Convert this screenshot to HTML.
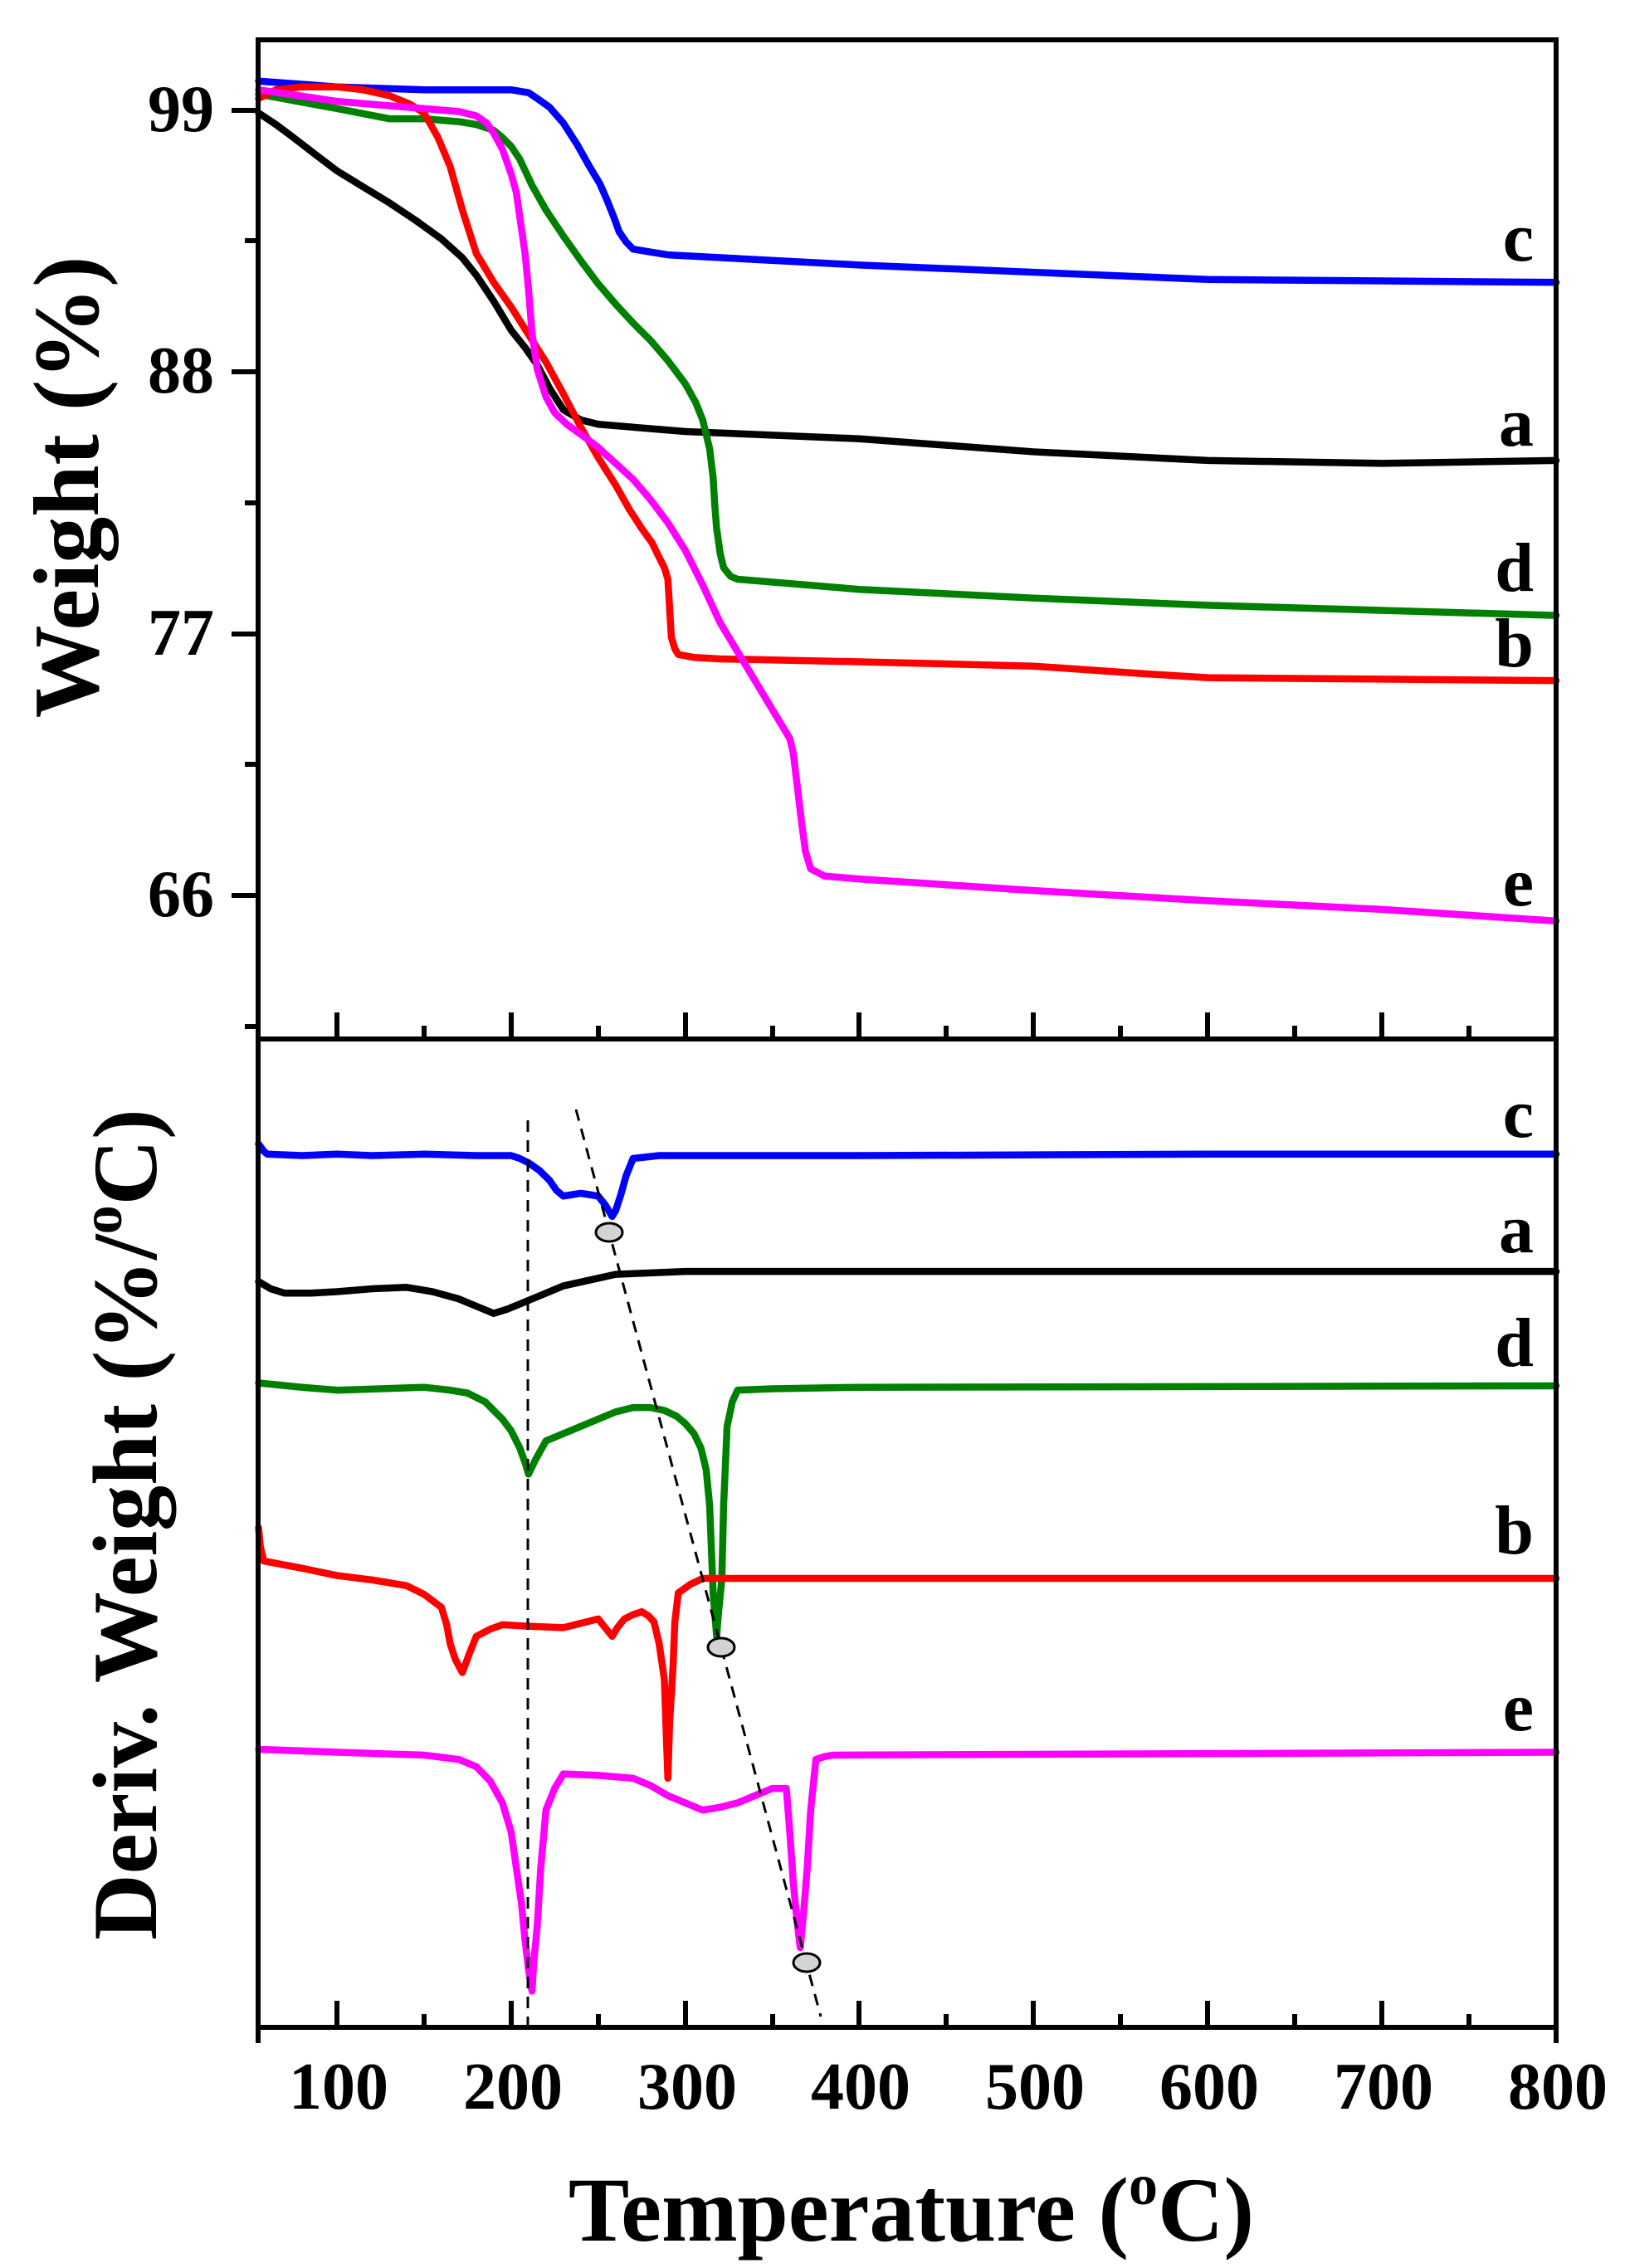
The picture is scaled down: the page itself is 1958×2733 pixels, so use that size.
<!DOCTYPE html>
<html><head><meta charset="utf-8"><style>
html,body{margin:0;padding:0;background:#fff;}
svg{display:block;}
text{font-family:"Liberation Serif",serif;font-weight:bold;fill:#000;}
</style></head><body>
<svg width="1958" height="2733" viewBox="0 0 1958 2733" xmlns="http://www.w3.org/2000/svg">
<g fill="none" stroke-linejoin="round" stroke-linecap="round" transform="matrix(2.0986,0,0,1.745,196.14,0)">
<g stroke-width="8.5">
<polyline vector-effect="non-scaling-stroke" stroke="#0000ff" points="55,56 100,60 150,62 200,62 210,64 215,68 222,74 230,85 238,100 245,115 251,127 255,138 259,150 262,160 266,167 270,172 280,174 290,176 400,183 500,188 600,193 800,195"/>
<polyline vector-effect="non-scaling-stroke" stroke="#000000" points="55,78 65,86 75,95 88,107 100,118 115,129 130,140 145,152 160,165 172,178 180,190 190,208 200,228 208,240 215,252 222,268 230,283 240,290 250,293 300,298 400,303 500,312 600,318 700,320 800,318"/>
<polyline vector-effect="non-scaling-stroke" stroke="#008000" points="55,65 100,75 130,82 150,82 170,84 180,86 190,90 195,95 200,101 205,110 212,128 220,145 230,163 240,180 250,196 260,210 270,223 280,235 290,249 300,265 306,278 310,290 314,310 316,330 317,350 318,365 320,382 322,392 326,398 330,400 400,407 500,413 600,418 800,425"/>
<polyline vector-effect="non-scaling-stroke" stroke="#ff0000" points="55,68 65,62 80,60 100,60 115,62 130,66 142,72 150,78 158,95 165,115 172,145 180,175 190,195 200,212 210,231 220,250 230,272 240,295 250,316 260,335 268,352 275,365 281,375 285,385 288,392 290,400 291,420 292,440 294,448 296,452 305,454 320,455 400,457 500,460 560,465 600,468 800,470"/>
<polyline vector-effect="non-scaling-stroke" stroke="#ff00ff" points="55,62 100,70 150,75 170,77 180,80 186,85 190,92 195,103 200,120 203,133 205,150 208,175 210,200 212,230 215,255 220,274 225,285 232,293 240,300 250,309 260,320 270,331 280,345 290,361 300,380 310,404 320,430 330,450 340,470 350,490 360,510 362,520 364,540 367,570 369,588 372,600 380,605 400,607 500,615 600,622 700,628 800,636"/>

<polyline vector-effect="non-scaling-stroke" stroke="#0000ff" points="55,790 58,795 60,797 80,798 100,797 120,798 150,797 180,798 200,798 205,800 210,803 216,808 222,815 226,822 230,826 235,825 240,824 245,825 250,826 254,832 258,840 260,836 263,825 266,812 270,800 285,798 300,798 400,798 600,797 800,797"/>
<polyline vector-effect="non-scaling-stroke" stroke="#000000" points="55,885 62,890 70,893 85,893 100,892 120,890 140,889 155,892 170,897 180,902 190,907 198,904 210,898 220,893 230,888 245,884 260,880 280,879 300,878 500,878 800,878"/>
<polyline vector-effect="non-scaling-stroke" stroke="#008000" points="55,955 80,958 100,960 125,959 150,958 165,960 175,962 185,968 195,980 200,988 205,1000 208,1010 210,1018 214,1008 220,995 230,990 240,985 250,980 260,975 270,972 280,972 288,974 295,978 300,983 305,990 309,1000 312,1015 314,1040 315,1070 316,1100 318,1130 319,1115 321,1090 322,1040 324,985 327,968 330,960 350,959 400,958 800,957"/>
<polyline vector-effect="non-scaling-stroke" stroke="#ff0000" points="55,1055 56,1068 58,1078 80,1083 100,1088 120,1091 140,1095 150,1101 160,1110 163,1122 165,1135 168,1146 172,1155 176,1142 180,1130 188,1125 195,1122 210,1123 230,1124 240,1121 250,1118 254,1124 258,1130 261,1124 265,1118 270,1115 275,1113 279,1116 282,1120 285,1135 288,1160 289,1195 290,1228 291,1190 293,1150 294,1120 296,1100 303,1094 310,1090 800,1090"/>
<polyline vector-effect="non-scaling-stroke" stroke="#ff00ff" points="55,1208 100,1210 150,1212 170,1215 180,1220 188,1230 195,1245 200,1265 203,1290 206,1315 208,1340 210,1360 212,1375 213,1355 215,1330 217,1290 220,1250 225,1235 230,1225 250,1226 270,1228 280,1233 290,1240 300,1245 310,1250 320,1248 330,1245 340,1240 350,1235 358,1235 360,1265 362,1300 364,1325 366,1345 368,1320 370,1290 372,1250 375,1215 380,1213 385,1212 800,1210"/>
</g>
</g>
<!-- dashed guide lines -->
<g stroke="#000" stroke-width="3" stroke-dasharray="14,10" fill="none">
<line x1="636" y1="1350" x2="636" y2="2440"/>
<line x1="694" y1="1337" x2="989" y2="2430"/>
</g>
<g fill="#d3d3d3" stroke="#000" stroke-width="3">
<ellipse cx="734" cy="1485" rx="16" ry="11"/>
<ellipse cx="869" cy="1985" rx="16" ry="11"/>
<ellipse cx="972" cy="2365" rx="16" ry="11"/>
</g>
<!-- frame -->
<g stroke="#000" stroke-width="6" fill="none" stroke-linecap="square">
<line x1="311" y1="48" x2="1875" y2="48"/>
<line x1="311" y1="48" x2="311" y2="2459"/>
<line x1="1875" y1="48" x2="1875" y2="2459"/>
<line x1="311" y1="1252" x2="1875" y2="1252"/>
<line x1="311" y1="2443" x2="1875" y2="2443"/>
</g>
<g stroke="#000" stroke-width="6">
<line x1="279" y1="133" x2="311" y2="133"/>
<line x1="279" y1="448" x2="311" y2="448"/>
<line x1="279" y1="764" x2="311" y2="764"/>
<line x1="279" y1="1079" x2="311" y2="1079"/>
<line x1="295" y1="290" x2="311" y2="290"/>
<line x1="295" y1="606" x2="311" y2="606"/>
<line x1="295" y1="921" x2="311" y2="921"/>
<line x1="295" y1="1237" x2="311" y2="1237"/>
<line x1="406" y1="1220" x2="406" y2="1252"/><line x1="616" y1="1220" x2="616" y2="1252"/>
<line x1="826" y1="1220" x2="826" y2="1252"/><line x1="1035" y1="1220" x2="1035" y2="1252"/>
<line x1="1245" y1="1220" x2="1245" y2="1252"/><line x1="1455" y1="1220" x2="1455" y2="1252"/>
<line x1="1665" y1="1220" x2="1665" y2="1252"/>
<line x1="511" y1="1236" x2="511" y2="1252"/><line x1="721" y1="1236" x2="721" y2="1252"/>
<line x1="931" y1="1236" x2="931" y2="1252"/><line x1="1140" y1="1236" x2="1140" y2="1252"/>
<line x1="1350" y1="1236" x2="1350" y2="1252"/><line x1="1560" y1="1236" x2="1560" y2="1252"/>
<line x1="1770" y1="1236" x2="1770" y2="1252"/>
<line x1="406" y1="2411" x2="406" y2="2443"/><line x1="616" y1="2411" x2="616" y2="2443"/>
<line x1="826" y1="2411" x2="826" y2="2443"/><line x1="1035" y1="2411" x2="1035" y2="2443"/>
<line x1="1245" y1="2411" x2="1245" y2="2443"/><line x1="1455" y1="2411" x2="1455" y2="2443"/>
<line x1="1665" y1="2411" x2="1665" y2="2443"/>
<line x1="511" y1="2427" x2="511" y2="2443"/><line x1="721" y1="2427" x2="721" y2="2443"/>
<line x1="931" y1="2427" x2="931" y2="2443"/><line x1="1140" y1="2427" x2="1140" y2="2443"/>
<line x1="1350" y1="2427" x2="1350" y2="2443"/><line x1="1560" y1="2427" x2="1560" y2="2443"/>
<line x1="1770" y1="2427" x2="1770" y2="2443"/>
</g>
<g font-size="80" text-anchor="end">
<text x="258" y="158">99</text>
<text x="258" y="473">88</text>
<text x="258" y="789">77</text>
<text x="258" y="1104">66</text>
</g>
<g font-size="80" text-anchor="middle">
<text x="408" y="2541">100</text><text x="618" y="2541">200</text>
<text x="828" y="2541">300</text><text x="1037" y="2541">400</text>
<text x="1247" y="2541">500</text><text x="1457" y="2541">600</text>
<text x="1667" y="2541">700</text><text x="1877" y="2541">800</text>
</g>
<g font-size="84" text-anchor="end">
<text x="1848" y="314">c</text>
<text x="1848" y="537">a</text>
<text x="1848" y="712">d</text>
<text x="1848" y="803">b</text>
<text x="1848" y="1091">e</text>
<text x="1848" y="1370">c</text>
<text x="1848" y="1509">a</text>
<text x="1848" y="1646">d</text>
<text x="1848" y="1872">b</text>
<text x="1848" y="2085">e</text>
</g>
<text font-size="112" text-anchor="middle" transform="translate(118,587) rotate(-90)">Weight (%)</text>
<text font-size="110" text-anchor="middle" transform="translate(188,1837) rotate(-90)">Deriv. Weight (%/<tspan font-size="70" dy="-42">o</tspan><tspan dy="42">C)</tspan></text>
<text font-size="110" text-anchor="middle" x="1098" y="2700">Temperature (<tspan font-size="70" dy="-44">o</tspan><tspan dy="44">C)</tspan></text>
</svg>
</body></html>
